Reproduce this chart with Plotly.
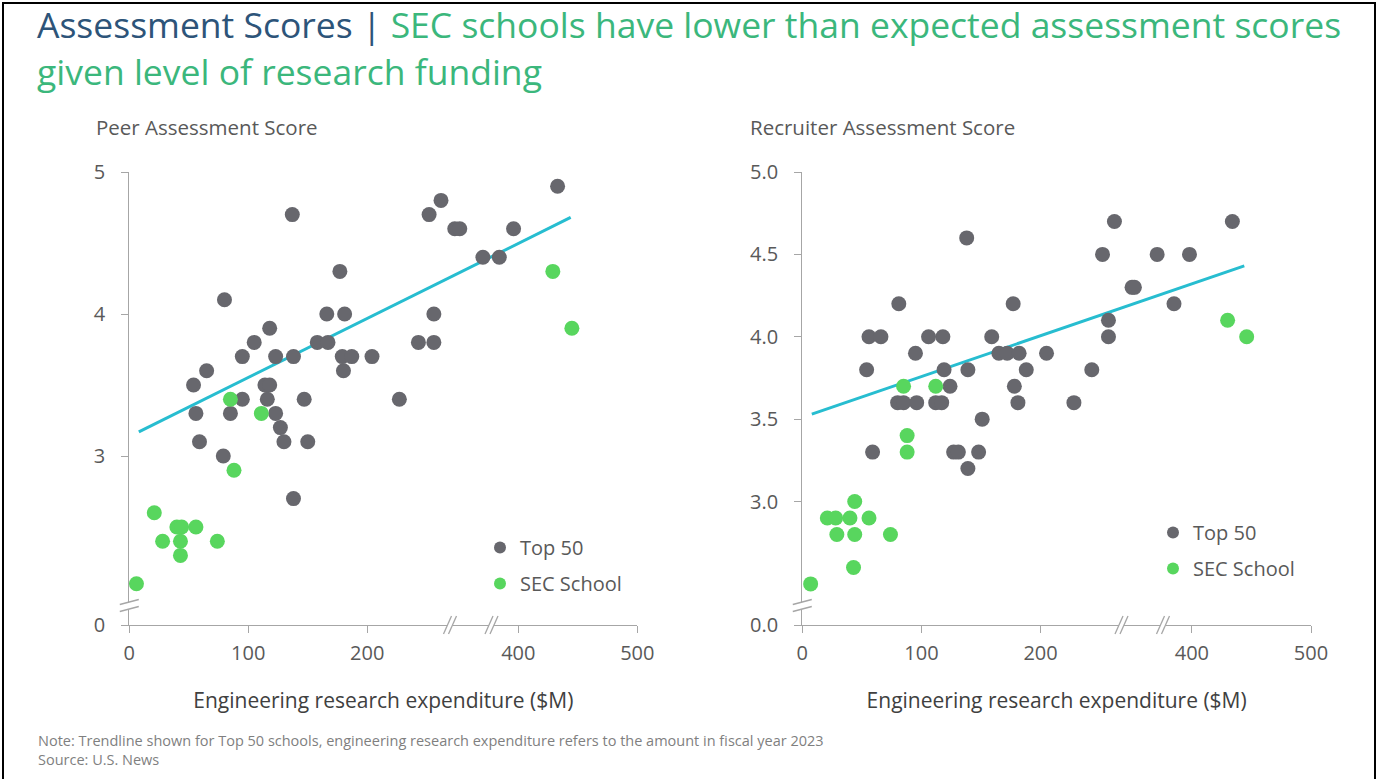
import plotly.graph_objects as go

W, H = 1388, 779

# ---------------- data ----------------
peer_top50_x = [433, 262, 252, 281, 294, 396, 354, 384, 256, 243, 256, 137, 177, 80, 166, 181,
                118, 105, 158, 167, 65, 95, 123, 138, 179, 187, 204, 180, 54, 114, 118, 95,
                116, 147, 227, 56, 85, 123, 127, 59, 130, 150, 79, 138]
peer_top50_y = [4.9, 4.8, 4.7, 4.6, 4.6, 4.6, 4.4, 4.4, 4.0, 3.8, 3.8, 4.7, 4.3, 4.1, 4.0, 4.0,
                3.9, 3.8, 3.8, 3.8, 3.6, 3.7, 3.7, 3.7, 3.7, 3.7, 3.7, 3.6, 3.5, 3.5, 3.5, 3.4,
                3.4, 3.4, 3.4, 3.3, 3.3, 3.3, 3.2, 3.1, 3.1, 3.1, 3.0, 2.7]
peer_sec_x = [429, 445, 85, 111, 88, 21, 40, 44, 56, 28, 43, 74, 43, 6]
peer_sec_y = [4.3, 3.9, 3.4, 3.3, 2.9, 2.6, 2.5, 2.5, 2.5, 2.4, 2.4, 2.4, 2.3, 2.1]
peer_trend_x = [8, 444]
peer_trend_y = [3.17, 4.68]

rec_top50_x = [138, 81, 177, 56, 66, 106, 118, 159, 95, 165, 172, 182, 205, 262, 434, 252,
               356, 398, 291, 297, 385, 257, 257, 243, 54, 119, 139, 188, 124, 178, 80, 85,
               96, 112, 117, 181, 228, 151, 59, 127, 131, 148, 139]
rec_top50_y = [4.6, 4.2, 4.2, 4.0, 4.0, 4.0, 4.0, 4.0, 3.9, 3.9, 3.9, 3.9, 3.9, 4.7, 4.7, 4.5,
               4.5, 4.5, 4.3, 4.3, 4.2, 4.1, 4.0, 3.8, 3.8, 3.8, 3.8, 3.8, 3.7, 3.7, 3.6, 3.6,
               3.6, 3.6, 3.6, 3.6, 3.6, 3.5, 3.3, 3.3, 3.3, 3.3, 3.2]
rec_sec_x = [430, 446, 85, 112, 88, 88, 44, 21, 28, 40, 56, 29, 44, 74, 43, 7]
rec_sec_y = [4.1, 4.0, 3.7, 3.7, 3.4, 3.3, 3.0, 2.9, 2.9, 2.9, 2.9, 2.8, 2.8, 2.8, 2.6, 2.5]
rec_trend_x = [8, 444]
rec_trend_y = [3.53, 4.43]

x_tick_labels = ["0", "100", "200", "400", "500"]
x_tick_values = [0, 100, 200, 400, 500]
peer_tick_labels = ["0", "3", "4", "5"]
rec_tick_labels = ["0.0", "3.0", "3.5", "4.0", "4.5", "5.0"]

series_names = ["Top 50", "SEC School"]

# ---------------- broken-axis scale ----------------
BRK_LO, BRK_HI, BRK_SHIFT = 270, 378, 73


def xs(v):
    if v <= BRK_LO:
        return v
    if v >= BRK_HI:
        return v - BRK_SHIFT
    return BRK_LO + (v - BRK_LO) * (BRK_HI - BRK_SHIFT - BRK_LO) / (BRK_HI - BRK_LO)


def tx(lst):
    return [xs(v) for v in lst]


PEER_FLOOR = 1.81   # where the broken y axis shows "0"
REC_FLOOR = 2.2506

GRAY = "#67676D"
GREEN = "#58D65E"
CYAN = "#27BDD0"
AX = "#A6A6A6"
TXT = "#595959"
FONT = "Open Sans"

fig = go.Figure()

# left panel
fig.add_trace(go.Scatter(x=tx(peer_trend_x), y=peer_trend_y, mode="lines",
                         line=dict(color=CYAN, width=3), showlegend=False,
                         xaxis="x", yaxis="y", hoverinfo="skip"))
fig.add_trace(go.Scatter(x=tx(peer_top50_x), y=peer_top50_y, mode="markers", name=series_names[0],
                         marker=dict(color=GRAY, size=15, line=dict(width=0)),
                         xaxis="x", yaxis="y", legend="legend", legendgroup="a", cliponaxis=False))
fig.add_trace(go.Scatter(x=tx(peer_sec_x), y=peer_sec_y, mode="markers", name=series_names[1],
                         marker=dict(color=GREEN, size=15, line=dict(width=0)),
                         xaxis="x", yaxis="y", legend="legend", legendgroup="b", cliponaxis=False))
# right panel
fig.add_trace(go.Scatter(x=tx(rec_trend_x), y=rec_trend_y, mode="lines",
                         line=dict(color=CYAN, width=3), showlegend=False,
                         xaxis="x2", yaxis="y2", hoverinfo="skip"))
fig.add_trace(go.Scatter(x=tx(rec_top50_x), y=rec_top50_y, mode="markers", name=series_names[0],
                         marker=dict(color=GRAY, size=15, line=dict(width=0)),
                         xaxis="x2", yaxis="y2", legend="legend2", legendgroup="c", cliponaxis=False))
fig.add_trace(go.Scatter(x=tx(rec_sec_x), y=rec_sec_y, mode="markers", name=series_names[1],
                         marker=dict(color=GREEN, size=15, line=dict(width=0)),
                         xaxis="x2", yaxis="y2", legend="legend2", legendgroup="d", cliponaxis=False))


def px(x):
    return x / W


def py(y):
    return 1 - y / H


xaxis_common = dict(range=[0, xs(500)], tickmode="array", tickvals=tx(x_tick_values),
                    ticktext=x_tick_labels, showgrid=False, zeroline=False, showline=True,
                    linecolor=AX, linewidth=1.3, ticks="outside", ticklen=7, tickcolor=AX,
                    tickwidth=1.3, tickfont=dict(family=FONT, size=20, color=TXT),
                    ticklabelstandoff=3, fixedrange=True, automargin=False,
                    title=dict(text="Engineering research expenditure ($M)",
                               font=dict(family=FONT, size=21, color="#404040"), standoff=28))
yaxis_common = dict(showgrid=False, zeroline=False, showline=True, linecolor=AX, linewidth=1.3,
                    ticks="outside", ticklen=7, tickcolor=AX, tickwidth=1.3,
                    tickfont=dict(family=FONT, size=20, color=TXT), ticklabelstandoff=12,
                    tickmode="array", fixedrange=True, automargin=False)

fig.update_layout(
    template="none",
    width=W, height=H, autosize=False,
    margin=dict(l=0, r=0, t=0, b=0, pad=0),
    paper_bgcolor="white", plot_bgcolor="white",
    xaxis=dict(domain=[px(129.3), px(637.3)], anchor="y", **xaxis_common),
    yaxis=dict(domain=[py(625), py(172)], anchor="x", range=[PEER_FLOOR, 5.0],
               tickvals=[PEER_FLOOR, 3, 4, 5], ticktext=peer_tick_labels, **yaxis_common),
    xaxis2=dict(domain=[px(802.3), px(1311)], anchor="y2", **xaxis_common),
    yaxis2=dict(domain=[py(625), py(172)], anchor="x2", range=[REC_FLOOR, 5.0],
                tickvals=[REC_FLOOR, 3.0, 3.5, 4.0, 4.5, 5.0], ticktext=rec_tick_labels,
                **yaxis_common),
    legend=dict(x=px(480), y=py(528), xanchor="left", yanchor="top",
                font=dict(family=FONT, size=20, color=TXT), bgcolor="rgba(0,0,0,0)",
                tracegroupgap=7, itemsizing="constant", traceorder="grouped"),
    legend2=dict(x=px(1153), y=py(513), xanchor="left", yanchor="top",
                 font=dict(family=FONT, size=20, color=TXT), bgcolor="rgba(0,0,0,0)",
                 tracegroupgap=7, itemsizing="constant", traceorder="grouped"),
    hovermode=False,
)

ann = []
ann.append(dict(text=("<span style='color:#2D5479'>Assessment Scores | </span>"
                      "<span style='color:#3BB77C'>SEC schools have lower than expected assessment scores</span>"),
                x=px(36), y=py(24.5), xref="paper", yref="paper", borderpad=0,
                xanchor="left", yanchor="middle", align="left", showarrow=False,
                font=dict(family=FONT, size=35.5)))
ann.append(dict(text="given level of research funding",
                x=px(36), y=py(71), xref="paper", yref="paper", borderpad=0,
                xanchor="left", yanchor="middle", align="left", showarrow=False,
                font=dict(family=FONT, size=35.5, color="#3BB77C")))
ann.append(dict(text="Peer Assessment Score", x=px(94), y=py(127), xref="paper", yref="paper",
                xanchor="left", yanchor="middle", showarrow=False,
                font=dict(family=FONT, size=20.5, color=TXT)))
ann.append(dict(text="Recruiter Assessment Score", x=px(748), y=py(127), xref="paper", yref="paper",
                xanchor="left", yanchor="middle", showarrow=False,
                font=dict(family=FONT, size=20.5, color=TXT)))
ann.append(dict(text="Note: Trendline shown for Top 50 schools, engineering research expenditure refers "
                     "to the amount in fiscal year 2023",
                x=px(36), y=py(740), xref="paper", yref="paper", xanchor="left", yanchor="middle",
                align="left", showarrow=False, font=dict(family=FONT, size=14.5, color="#7F7F7F")))
ann.append(dict(text="Source: U.S. News",
                x=px(36), y=py(759), xref="paper", yref="paper", xanchor="left", yanchor="middle",
                align="left", showarrow=False, font=dict(family=FONT, size=14.5, color="#7F7F7F")))
fig.update_layout(annotations=ann)

shapes = []
# outer frame
shapes.append(dict(type="rect", xref="paper", yref="paper", x0=px(3), x1=px(1375), y0=py(782), y1=py(3),
                   line=dict(color="black", width=2), fillcolor="rgba(0,0,0,0)", layer="above"))


def ybreak(xc, yc):
    out = [dict(type="rect", xref="paper", yref="paper", x0=px(xc - 4), x1=px(xc + 4),
                y0=py(yc + 4), y1=py(yc - 3), fillcolor="white", line=dict(width=0), layer="above")]
    for dy in (-3.5, 3.5):
        out.append(dict(type="line", xref="paper", yref="paper", x0=px(xc - 9.5), y0=py(yc + dy + 2.5),
                        x1=px(xc + 9.5), y1=py(yc + dy - 2.5), line=dict(color=AX, width=1.3),
                        layer="above"))
    return out


def xbreak(xc, yc):
    out = [dict(type="rect", xref="paper", yref="paper", x0=px(xc - 2.5), x1=px(xc + 2.5),
                y0=py(yc + 3), y1=py(yc - 3), fillcolor="white", line=dict(width=0), layer="above")]
    for dx in (-2.5, 2.5):
        out.append(dict(type="line", xref="paper", yref="paper", x0=px(xc + dx - 4), y0=py(yc + 9),
                        x1=px(xc + dx + 4), y1=py(yc - 9), line=dict(color=AX, width=1.3),
                        layer="above"))
    return out


shapes += ybreak(129.3, 605.5)
shapes += ybreak(802.3, 605.5)
shapes += xbreak(450, 625)
shapes += xbreak(491.5, 625)
shapes += xbreak(1121.5, 625)
shapes += xbreak(1163, 625)
fig.update_layout(shapes=shapes)

fig.write_html("out.html", config={"displayModeBar": False},
               post_script="document.body.style.margin='0px';document.body.style.overflow='hidden';")
